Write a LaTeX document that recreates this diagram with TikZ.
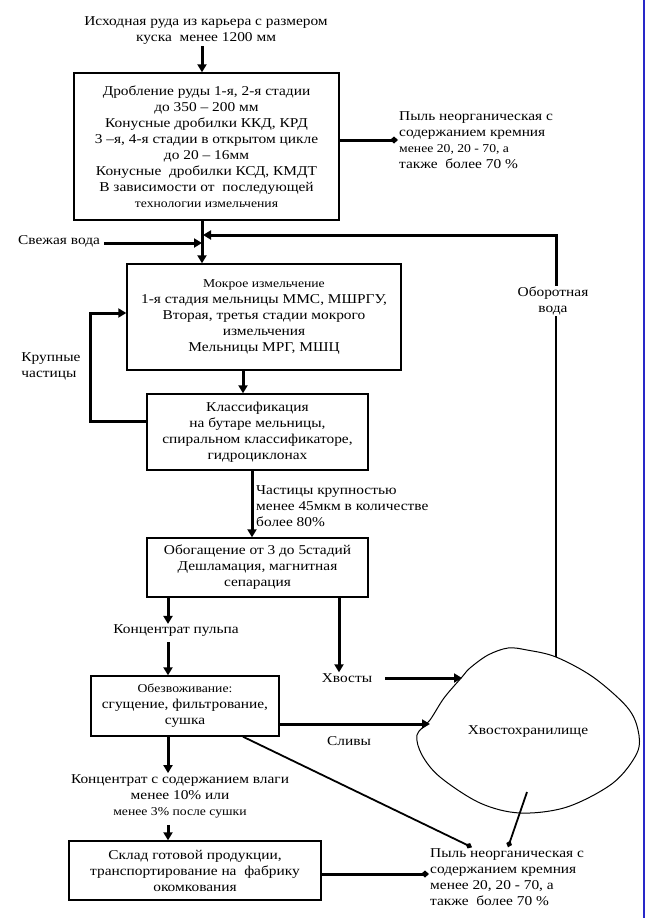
\documentclass[tikz,border=0pt]{standalone}
\usepackage{fontspec}
\setmainfont{Liberation Serif}[FakeStretch=1.14]
\usetikzlibrary{arrows.meta,positioning}
\definecolor{frameblue}{RGB}{40,40,200}
\newcommand\minor{\fontsize{12}{16}\selectfont}

\begin{document}
\begin{tikzpicture}[x=1pt, y=-1pt,
  procbox/.style={draw, line width=1.4pt, align=center, inner sep=2pt, font=\fontsize{13.5}{16}\selectfont},
  note/.style={align=center, inner sep=1pt, font=\fontsize{13.5}{16}\selectfont},
  flow/.style={line width=3pt, -{Triangle[length=8pt, width=9pt]}},
  dust/.style={line width=3pt, -{Diamond[length=8pt, width=7pt]}},
  slope/.style={line width=1.8pt, -{Diamond[length=7pt, width=6pt]}}]
\useasboundingbox (0,0) rectangle (646,918);
\draw[frameblue, line width=1.2pt] (644,0) -- (644,918);
% Input
\node[note] (ore) at (206,31) {Исходная руда из карьера с размером\\куска~~менее 1200 мм};
% Crushing
\node[procbox, minimum width=265pt, minimum height=147pt] (crush) at (206.5,146.5)
  {Дробление руды 1-я, 2-я стадии\\до 350 – 200 мм\\Конусные дробилки ККД, КРД\\3 –я, 4-я стадии в открытом цикле\\до 20 – 16мм\\Конусные~~дробилки КСД, КМДТ\\В зависимости от~~последующей\\{\minor технологии измельчения}};
\node[note, align=left, anchor=west] (dust1) at (398,140) {Пыль неорганическая с\\содержанием кремния\\{\minor менее 20, 20 - 70, а}\\также~~более 70 \%};
% Water
\node[note, anchor=west] (fresh) at (17,241) {Свежая вода};
\coordinate (join) at (202,243);
\coordinate (mix) at (203,235);
% Grinding and classification
\node[procbox, minimum width=274pt, minimum height=106pt] (mill) at (264,317)
  {{\minor Мокрое измельчение}\\1-я стадия мельницы ММС, МШРГУ,\\Вторая, третья стадии мокрого\\измельчения\\Мельницы МРГ, МШЦ};
\node[procbox, minimum width=221pt, minimum height=76pt] (classif) at (257.5,432)
  {Классификация\\на бутаре мельницы,\\спиральном классификаторе,\\гидроциклонах};
\node[note, align=left] (coarse) at (51,366) {Крупные\\частицы};
\node[note, align=left, anchor=west] (fine) at (255,506) {Частицы крупностью\\менее 45мкм в количестве\\более 80\%};
% Enrichment
\node[procbox, minimum width=221pt, minimum height=59pt] (enrich) at (257.5,567.5)
  {Обогащение от 3 до 5стадий\\Дешламация, магнитная\\сепарация};
\node[note] (pulp) at (176,631) {Концентрат пульпа};
\node[note] (tails) at (347,678) {Хвосты};
% Dewatering
\node[procbox, minimum width=188pt, minimum height=60pt] (dewater) at (185,706)
  {{\minor Обезвоживание:}\\сгущение, фильтрование,\\сушка};
\node[note] (sliv) at (349,741) {Сливы};
\node[note] (conc) at (180,796) {Концентрат с содержанием влаги\\менее 10\% или\\{\minor менее 3\% после сушки}};
\node[procbox, minimum width=252pt, minimum height=59pt] (store) at (195,870.5)
  {Склад готовой продукции,\\транспортирование на~~фабрику\\окомкования};
\node[note, align=left, anchor=west] (dust2) at (429,877) {Пыль неорганическая с\\содержанием кремния\\менее 20, 20 - 70, а\\также~~более 70 \%};
% Tailings pond
\draw[line width=1pt] plot[smooth cycle, tension=0.55] coordinates {(462,677) (444,698) (430,720) (417,735) (422,755) (440,777) (480,803) (520,813) (567,807) (613,783) (637,753) (638,730) (627,707) (593,677) (556,657) (527,650) (508,648) (488,655) (470,668)};
\node[note] (pond) at (528,732) {Хвостохранилище};
\coordinate (pondin1) at (462,678);
\coordinate (pondin2) at (430,724);
\coordinate (pondtop) at (556,657);
\coordinate (pondout) at (527,792);
\node[note] (recycled) at (553,301) {Оборотная\\вода};
% Arrows
\draw[flow] (ore.south -| join) -- (crush.north -| join);
\draw[dust] (crush.east |- dust1.west) -- (dust1.west);
\draw[flow] (crush.south -| join) -- (mill.north -| join);
\draw[flow] (fresh.east) ++(3,2) -- (join);
\draw[line width=2.6pt] (pondtop) -- (recycled.south -| pondtop);
\draw[flow] (recycled.north -| pondtop) |- (mix);
\draw[flow] (mill.south -| 243,0) -- (classif.north -| 243,0);
\draw[flow] (classif.west |- 0,421) -| (90,367) |- (mill.west |- 0,313);
\draw[flow] (classif.south -| 252,0) -- (enrich.north -| 252,0);
\draw[flow] (enrich.south -| 168,0) -- (pulp.north -| 168,0);
\draw[flow] (pulp.south -| 168,0) ++(0,4) -- (dewater.north -| 168,0);
\draw[flow] (enrich.south -| 339,0) -- (tails.north -| 339,0);
\draw[flow, shorten <=12pt] (tails.east) -- (pondin1);
\draw[flow] (dewater.east |- pondin2) -- (pondin2);
\draw[slope] ([xshift=58pt]dewater.south) -- ([xshift=43pt]dust2.north west);
\draw[slope] (pondout) -- ([xshift=79pt]dust2.north west);
\draw[flow] (dewater.south -| 168,0) -- (conc.north -| 168,0);
\draw[flow] (conc.south -| 168,0) ++(0,6) -- (store.north -| 168,0);
\draw[dust] (store.east |- 0,874) -- (dust2.west |- 0,874);
\end{tikzpicture}
\end{document}
